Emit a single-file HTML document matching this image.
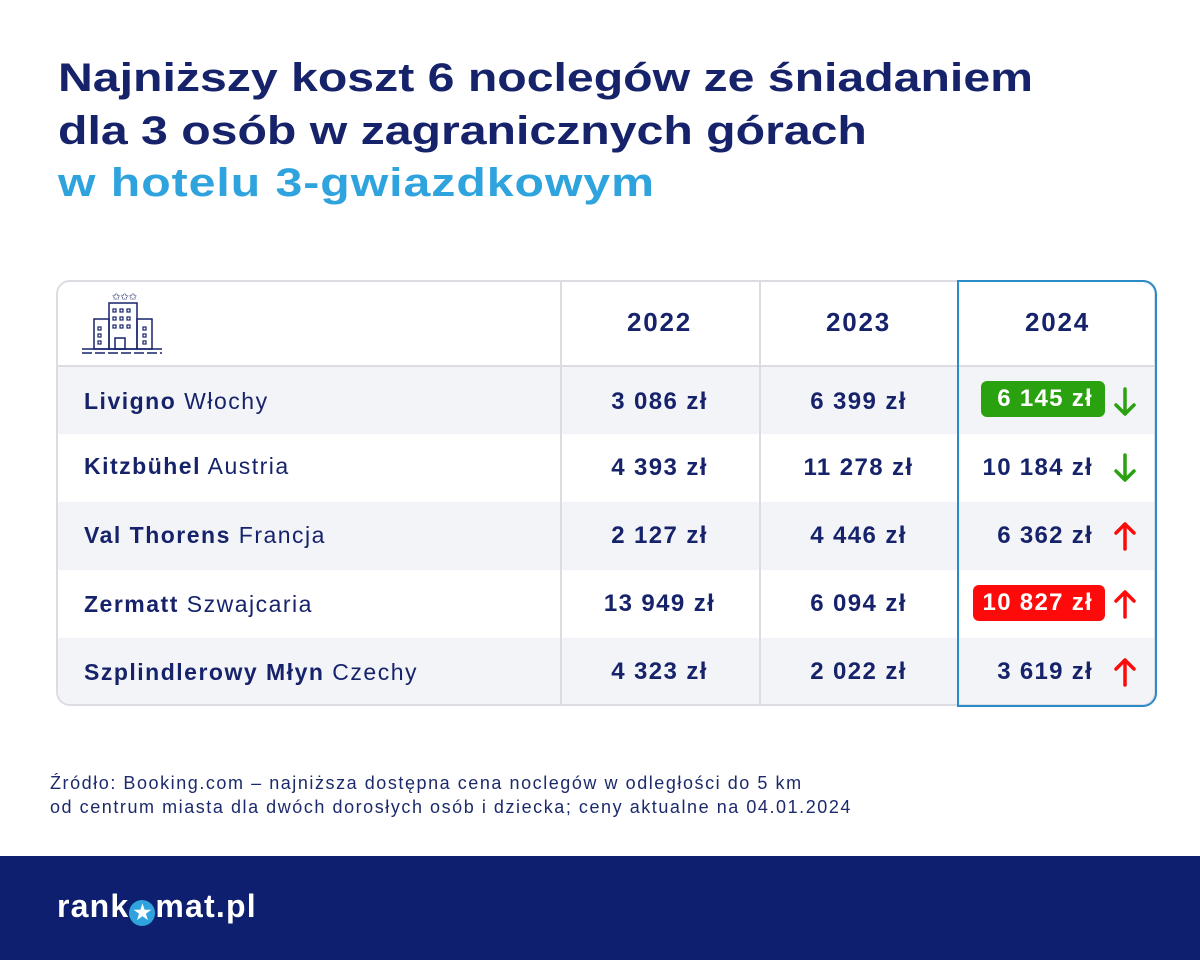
<!DOCTYPE html>
<html><head><meta charset="utf-8"><style>
body{margin:0;width:1200px;height:960px;background:#fff;font-family:"Liberation Sans",sans-serif;color:#16236b;position:relative;overflow:hidden}
.t{position:absolute;left:58px;font-size:40px;font-weight:bold;line-height:52px;white-space:nowrap;transform:scaleX(1.205);transform-origin:left}
.tbl{position:absolute;left:56px;top:280px;width:1100px;height:426px;border:2px solid #dcdde2;border-radius:14px;overflow:hidden;box-sizing:border-box}
.row{position:absolute;left:0;width:1100px;height:68px}
.g{background:#f3f4f7}
.c{position:absolute;font-size:24px;font-weight:bold;text-align:center;width:199px;letter-spacing:1.4px}
.vl{position:absolute;top:0;bottom:0;width:2px;background:#dcdde2}
.nm{position:absolute;left:84px;font-size:23px;letter-spacing:1.5px;white-space:nowrap}
.p{position:absolute;font-size:24px;font-weight:bold;padding:4px 10px;border-radius:6px;letter-spacing:1.3px;white-space:nowrap}
.ar{position:absolute;left:1113px}
.foot{position:absolute;left:0;top:856px;width:1200px;height:104px;background:#0d1f6e}
</style></head><body>
<div class="t" style="top:52px">Najniższy koszt 6 noclegów ze śniadaniem</div>
<div class="t" style="top:105px">dla 3 osób w zagranicznych górach</div>
<div class="t" style="top:157px;color:#2ea3dd;letter-spacing:0.8px">w hotelu 3-gwiazdkowym</div>

<div class="tbl">
 <div class="row" style="top:0;height:84px"></div>
 <div class="row g" style="top:84px"></div>
 <div class="row" style="top:152px"></div>
 <div class="row g" style="top:220px"></div>
 <div class="row" style="top:288px"></div>
 <div class="row g" style="top:356px;height:70px"></div>
 <div style="position:absolute;left:0;right:0;top:83px;height:2px;background:#dcdde2"></div>
 <div class="vl" style="left:502px"></div><div class="vl" style="left:701px"></div>
</div>
<div style="position:absolute;left:957px;top:280px;width:200px;height:427px;border:2px solid #2b8ac8;border-radius:0 14px 14px 0;box-sizing:border-box"></div>

<svg style="position:absolute;left:82px;top:289px" width="82" height="66" viewBox="0 0 82 66" fill="none" stroke="#16236b" stroke-width="1.5">
<text x="30" y="11" font-size="10" fill="#16236b" stroke="none">✩✩✩</text>
<rect x="27" y="14" width="28" height="46"/><rect x="12" y="30" width="15" height="30"/><rect x="55" y="30" width="15" height="30"/>
<rect x="33" y="49" width="10" height="11"/>
<g stroke-width="1.2"><rect x="31" y="20" width="3" height="3"/><rect x="38" y="20" width="3" height="3"/><rect x="45" y="20" width="3" height="3"/>
<rect x="31" y="28" width="3" height="3"/><rect x="38" y="28" width="3" height="3"/><rect x="45" y="28" width="3" height="3"/>
<rect x="31" y="36" width="3" height="3"/><rect x="38" y="36" width="3" height="3"/><rect x="45" y="36" width="3" height="3"/>
<rect x="16" y="38" width="3" height="3"/><rect x="16" y="45" width="3" height="3"/><rect x="16" y="52" width="3" height="3"/>
<rect x="61" y="38" width="3" height="3"/><rect x="61" y="45" width="3" height="3"/><rect x="61" y="52" width="3" height="3"/></g>
<line x1="0" y1="60" x2="80" y2="60"/><line x1="0" y1="64" x2="80" y2="64" stroke-dasharray="10 3"/>
</svg>

<div class="c" style="left:560px;top:307px;font-size:26px;letter-spacing:1.8px">2022</div>
<div class="c" style="left:759px;top:307px;font-size:26px;letter-spacing:1.8px">2023</div>
<div class="c" style="left:958px;top:307px;font-size:26px;letter-spacing:1.8px">2024</div>

<div class="nm" style="top:388px"><b>Livigno</b> Włochy</div>
<div class="nm" style="top:453px"><b>Kitzbühel</b> Austria</div>
<div class="nm" style="top:522px"><b>Val Thorens</b> Francja</div>
<div class="nm" style="top:591px"><b>Zermatt</b> Szwajcaria</div>
<div class="nm" style="top:659px"><b>Szplindlerowy Młyn</b> Czechy</div>

<div class="c" style="left:560px;top:388px">3 086 zł</div><div class="c" style="left:759px;top:388px">6 399 zł</div>
<div class="c" style="left:560px;top:454px">4 393 zł</div><div class="c" style="left:759px;top:454px">11 278 zł</div>
<div class="c" style="left:560px;top:522px">2 127 zł</div><div class="c" style="left:759px;top:522px">4 446 zł</div>
<div class="c" style="left:560px;top:590px">13 949 zł</div><div class="c" style="left:759px;top:590px">6 094 zł</div>
<div class="c" style="left:560px;top:658px">4 323 zł</div><div class="c" style="left:759px;top:658px">2 022 zł</div>

<div style="position:absolute;left:0;top:0;width:1105px">
<div class="p" style="top:381px;right:0;background:#2aa20f;color:#fff;padding:4px 12px 4px 16px">6 145 zł</div>
<div class="p" style="top:450px;right:0;padding:4px 12px">10 184 zł</div>
<div class="p" style="top:518px;right:0;padding:4px 12px">6 362 zł</div>
<div class="p" style="top:585px;right:0;background:#ff0a0a;color:#fff;padding:4px 12px 4px 10px">10 827 zł</div>
<div class="p" style="top:654px;right:0;padding:4px 12px">3 619 zł</div>
</div>
<svg class="ar" style="top:386px" width="24" height="32"><path d="M12 3V28M3 19L12 28L21 19" stroke="#2aa20f" stroke-width="3.5" fill="none" stroke-linecap="round" stroke-linejoin="round"/></svg>
<svg class="ar" style="top:452px" width="24" height="32"><path d="M12 3V28M3 19L12 28L21 19" stroke="#2aa20f" stroke-width="3.5" fill="none" stroke-linecap="round" stroke-linejoin="round"/></svg>
<svg class="ar" style="top:520px" width="24" height="32"><path d="M12 29V4M3 13L12 4L21 13" stroke="#ff0a0a" stroke-width="3.5" fill="none" stroke-linecap="round" stroke-linejoin="round"/></svg>
<svg class="ar" style="top:588px" width="24" height="32"><path d="M12 29V4M3 13L12 4L21 13" stroke="#ff0a0a" stroke-width="3.5" fill="none" stroke-linecap="round" stroke-linejoin="round"/></svg>
<svg class="ar" style="top:656px" width="24" height="32"><path d="M12 29V4M3 13L12 4L21 13" stroke="#ff0a0a" stroke-width="3.5" fill="none" stroke-linecap="round" stroke-linejoin="round"/></svg>

<div style="position:absolute;left:50px;top:771px;font-size:18px;line-height:24px;color:#1c2a6b;letter-spacing:1.55px;white-space:nowrap">Źródło: Booking.com – najniższa dostępna cena noclegów w odległości do 5 km<br>od centrum miasta dla dwóch dorosłych osób i dziecka; ceny aktualne na 04.01.2024</div>

<div class="foot"><div style="position:absolute;left:57px;top:32px;font-size:32px;font-weight:bold;color:#fff;letter-spacing:1.2px;white-space:nowrap">rank<span style="display:inline-block;width:26px;height:26px;border-radius:50%;background:#2ea3dd;color:#fff;font-size:20px;line-height:26px;text-align:center;vertical-align:-2px;letter-spacing:0">★</span>mat.pl</div></div>
</body></html>
